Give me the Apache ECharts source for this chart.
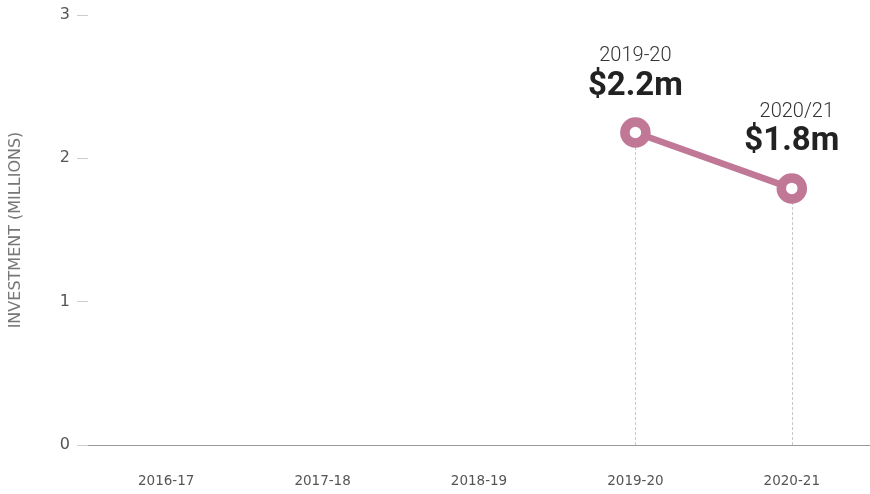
<!DOCTYPE html>
<html>
<head>
<meta charset="utf-8">
<script src="https://cdn.jsdelivr.net/npm/echarts@6/dist/echarts.min.js"></script>
<style>
  html, body { margin: 0; padding: 0; background: #fff; }
  #chart { width: 870px; height: 494px; }
</style>
</head>
<body>
<div id="chart"></div>
<script>
// Financial years on the horizontal axis
const years = ['2016-17', '2017-18', '2018-19', '2019-20', '2020-21'];
// Investment in millions (no data for the first three years)
const investment = [null, null, null, 2.18, 1.79];
// Heading shown above each plotted value
const headings = [null, null, null, '2019-20', '2020/21'];
// Value axis ticks
const yTicks = [0, 1, 2, 3];

const lineColor = '#c07896';
const axisFont = 'DejaVu Sans';

const points = years.map((y, i) => investment[i] == null ? null : {
  value: investment[i],
  label: {
    show: true,
    position: 'top',
    distance: 14,
    formatter: '{h|' + headings[i] + '}\n{v|$' + investment[i].toFixed(1) + 'm}',
    rich: {
      h: {
        fontFamily: 'Roboto', fontWeight: 300, fontSize: 20, color: '#333',
        lineHeight: 26, align: 'center',
        padding: i === years.length - 1 ? [0, 0, 0, 10] : 0
      },
      v: { fontFamily: 'Roboto', fontWeight: 'bold', fontSize: 33, color: '#222', lineHeight: 34, align: 'center' }
    }
  }
});

// Dotted drop lines from each point to the axis
const dropLines = [];
years.forEach((y, i) => {
  if (investment[i] != null) {
    dropLines.push([{ coord: [y, 0] }, { coord: [y, investment[i]] }]);
  }
});

const chart = echarts.init(document.getElementById('chart'));
chart.setOption({
  animation: false,
  grid: { left: 88, right: 0, top: 15, bottom: 49, containLabel: false, outerBoundsMode: 'none' },
  xAxis: {
    type: 'category',
    data: years,
    boundaryGap: true,
    axisLine: { lineStyle: { color: '#999', width: 1.2 } },
    axisTick: { alignWithLabel: true, length: 10, lineStyle: { color: '#999' } },
    axisLabel: { margin: 29, fontFamily: axisFont, fontSize: 13.5, color: '#555' }
  },
  yAxis: {
    type: 'value',
    min: yTicks[0],
    max: yTicks[yTicks.length - 1],
    interval: 1,
    name: 'INVESTMENT (MILLIONS)',
    nameLocation: 'middle',
    nameGap: 64,
    nameRotate: 90,
    nameTextStyle: { fontFamily: axisFont, fontSize: 16, color: '#777' },
    axisLine: { show: false },
    axisTick: { show: true, length: 11, lineStyle: { color: '#ccc' } },
    splitLine: { show: false },
    axisLabel: { margin: 18, fontFamily: axisFont, fontSize: 16, color: '#555' }
  },
  series: [{
    type: 'line',
    data: points,
    connectNulls: false,
    symbol: 'circle',
    symbolSize: 21,
    lineStyle: { color: lineColor, width: 6.5 },
    itemStyle: { color: '#fff', borderColor: lineColor, borderWidth: 9.5 },
    z: 5,
    markLine: {
      silent: true,
      symbol: 'none',
      label: { show: false },
      lineStyle: { color: '#c8c8c8', type: [3, 2], width: 1 },
      data: dropLines,
      z: 1
    }
  }]
});
</script>
</body>
</html>
